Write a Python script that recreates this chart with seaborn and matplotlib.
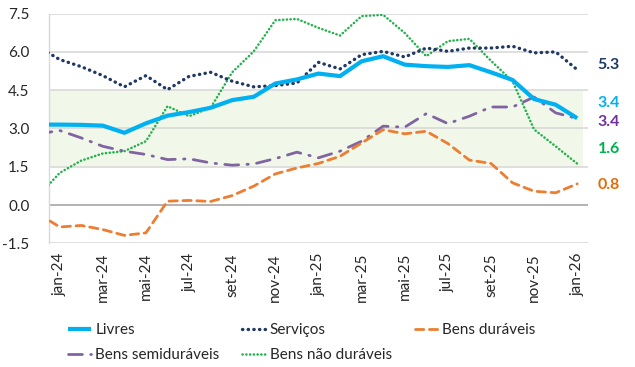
import numpy as np
import pandas as pd
import matplotlib
matplotlib.use("Agg")
import matplotlib.pyplot as plt
import matplotlib.transforms as mtransforms
import seaborn as sns

# months, dez-23 (clipped at left edge) to jan-26
months = ['dez-23',
          'jan-24', 'fev-24', 'mar-24', 'abr-24', 'mai-24', 'jun-24',
          'jul-24', 'ago-24', 'set-24', 'out-24', 'nov-24', 'dez-24',
          'jan-25', 'fev-25', 'mar-25', 'abr-25', 'mai-25', 'jun-25',
          'jul-25', 'ago-25', 'set-25', 'out-25', 'nov-25', 'dez-25',
          'jan-26']

livres = [3.15, 3.15, 3.14, 3.11, 2.83, 3.20, 3.50, 3.64, 3.81, 4.11, 4.24, 4.76, 4.92,
          5.15, 5.05, 5.63, 5.83, 5.50, 5.44, 5.41, 5.48, 5.20, 4.90, 4.15, 3.93, 3.40]
servicos = [6.20, 5.70, 5.42, 5.07, 4.63, 5.07, 4.52, 5.04, 5.20, 4.85, 4.63, 4.68, 4.78,
            5.59, 5.33, 5.89, 6.02, 5.80, 6.15, 6.02, 6.15, 6.15, 6.22, 5.96, 6.00, 5.30]
duraveis = [-0.34, -0.86, -0.80, -0.96, -1.19, -1.09, 0.15, 0.18, 0.14, 0.37, 0.74, 1.22, 1.45,
            1.63, 1.91, 2.43, 2.95, 2.79, 2.89, 2.41, 1.76, 1.63, 0.87, 0.54, 0.48, 0.83]
semiduraveis = [2.78, 2.92, 2.63, 2.30, 2.11, 1.98, 1.78, 1.81, 1.65, 1.56, 1.61, 1.82, 2.07,
                1.85, 2.11, 2.50, 3.09, 3.05, 3.58, 3.19, 3.48, 3.84, 3.84, 4.23, 3.61, 3.39]
nao_duraveis = [0.34, 1.26, 1.74, 2.02, 2.11, 2.50, 3.87, 3.48, 3.81, 5.20, 6.02, 7.24, 7.29,
                6.94, 6.64, 7.40, 7.45, 6.74, 5.83, 6.42, 6.51, 5.65, 4.85, 2.96, 2.30, 1.62]

tick_labels = ['jan-24', 'mar-24', 'mai-24', 'jul-24', 'set-24', 'nov-24',
               'jan-25', 'mar-25', 'mai-25', 'jul-25', 'set-25', 'nov-25', 'jan-26']

df = pd.DataFrame({'mes': months, 'Livres': livres, 'Serviços': servicos,
                   'Bens duráveis': duraveis, 'Bens semiduráveis': semiduraveis,
                   'Bens não duráveis': nao_duraveis})
df['pos'] = np.arange(len(df)) - 1  # jan-24 -> 0

sns.set_style('white')
plt.rcParams['font.family'] = ['Lato', 'DejaVu Sans']

fig = plt.figure(figsize=(6.35, 3.67), dpi=100)
ax = fig.add_axes([0.077, 0.337, 0.849, 0.626])

# target band 1.5 - 4.5
ax.fill_between([-0.5, 24.25], 1.5, 4.5, color='#F1F7E9', zorder=0, lw=0)

styles = {
    'Livres': dict(color='#00B0F0', lw=3.0, ls='-'),
    'Serviços': dict(color='#1F3864', lw=2.4, ls=(0, (0.1, 1.6))),
    'Bens duráveis': dict(color='#ED7D31', lw=2.0, ls=(0, (3, 2))),
    'Bens semiduráveis': dict(color='#8064A2', lw=2.0, ls=(0, (5, 3, 0.5, 3))),
    'Bens não duráveis': dict(color='#22B14C', lw=1.8, ls=(0, (0.1, 1.4))),
}

handles = {}
for name in ['Bens não duráveis', 'Bens semiduráveis', 'Bens duráveis', 'Serviços', 'Livres']:
    st = styles[name]
    sns.lineplot(data=df, x='pos', y=name, ax=ax, color=st['color'], lw=st['lw'],
                 ls=st['ls'], label=name, legend=False, zorder=3)
    line = ax.lines[-1]
    line.set_dash_capstyle('round')
    line.set_solid_capstyle('butt')
    handles[name] = line

ax.set_xlim(-0.5, 24.5)
ax.set_ylim(-1.5, 7.5)
ax.set_yticks(np.arange(-1.5, 7.6, 1.5))
ax.set_yticklabels([f'{v:.1f}' for v in np.arange(-1.5, 7.6, 1.5)], fontsize=11, color='#262626')
ax.set_xticks(np.arange(0, 25, 2))
ax.set_xticklabels(tick_labels, rotation=90, fontsize=11, color='#262626')
ax.tick_params(axis='y', length=0, pad=14)
ax.tick_params(axis='x', length=0, pad=7)
ax.set_xlabel('')
ax.set_ylabel('')

for v in np.arange(-1.5, 7.6, 1.5):
    ax.axhline(v, color='#A6A6A6' if v == 0 else '#D9D9D9', lw=1.2, zorder=1)

for s in ['top', 'right', 'bottom']:
    ax.spines[s].set_visible(False)
ax.spines['left'].set_color('#D9D9D9')
ax.spines['left'].set_linewidth(1.0)

# end labels
trans = mtransforms.blended_transform_factory(ax.transAxes, ax.transData)
end_labels = [('Serviços', 5.5, '#1F3864'), ('Livres', 4.0, '#00B0F0'),
              ('Bens semiduráveis', 3.25, '#7030A0'), ('Bens não duráveis', 2.2, '#00B050'),
              ('Bens duráveis', 0.78, '#E36C0A')]
for name, ypos, col in end_labels:
    ax.text(1.018, ypos, f'{df[name].iloc[-1]:.1f}', transform=trans, color=col,
            fontsize=11.5, fontweight='bold', va='center', ha='left')

order = ['Livres', 'Bens semiduráveis', 'Serviços', 'Bens não duráveis', 'Bens duráveis']
fig.legend([handles[n] for n in order], order, ncol=3, loc='lower left',
           bbox_to_anchor=(0.085, -0.025), frameon=False, fontsize=11,
           handlelength=1.5, handletextpad=0.3, columnspacing=1.5,
           labelspacing=0.75)

fig.savefig('out.png', dpi=100)
